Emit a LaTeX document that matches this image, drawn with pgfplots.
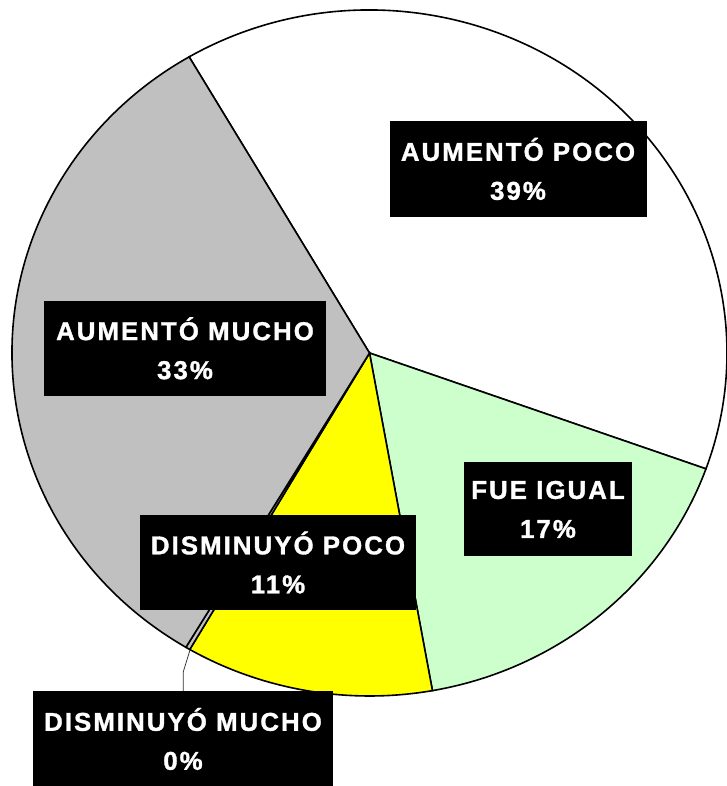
\documentclass[border=0pt]{standalone}
\usepackage{pgfplots}
\pgfplotsset{compat=1.18}
\usepackage{fontspec}
\setmainfont{Liberation Sans}
\newfontfamily\lblfont[LetterSpace=8, BoldFeatures={FakeBold=1.3}]{Liberation Sans}
\definecolor{lgreen}{HTML}{CCFFCC}
\definecolor{lgray}{HTML}{C0C0C0}
\definecolor{pyellow}{HTML}{FFFF00}
\definecolor{dmcol}{HTML}{C0C0C0}
% slice values (percent), clockwise from start angle
\def\vAP{38.9}\def\vFI{16.7}\def\vDP{11.2}\def\vDM{0.2}\def\vAM{33.0}
\pgfmathsetmacro\sAP{120.3}
\pgfmathsetmacro\eAP{\sAP-3.6*\vAP}
\pgfmathsetmacro\eFI{\eAP-3.6*\vFI}
\pgfmathsetmacro\eDP{\eFI-3.6*\vDP}
\pgfmathsetmacro\eDM{\eDP-3.6*\vDM}
\pgfmathsetmacro\eAM{\eDM-3.6*\vAM}
\tikzset{lbl/.style={fill=black,text=white,align=center,inner sep=0pt,
  font=\lblfont\bfseries\fontsize{25.8bp}{39bp}\selectfont}}
\begin{document}
\begin{tikzpicture}
\begin{axis}[scale only axis, width=727bp, height=786bp,
  xmin=0, xmax=727, ymin=0, ymax=786, hide axis, clip=false]
\draw[fill=white, line width=1.6bp] (axis cs:369.5,433) -- ++(\sAP:357.5bp and 343bp) arc[start angle=\sAP, end angle=\eAP, x radius=357.5bp, y radius=343bp] -- cycle;
\draw[fill=lgreen, line width=1.6bp] (axis cs:369.5,433) -- ++(\eAP:357.5bp and 343bp) arc[start angle=\eAP, end angle=\eFI, x radius=357.5bp, y radius=343bp] -- cycle;
\draw[fill=pyellow, line width=1.6bp] (axis cs:369.5,433) -- ++(\eFI:357.5bp and 343bp) arc[start angle=\eFI, end angle=\eDP, x radius=357.5bp, y radius=343bp] -- cycle;
\draw[fill=dmcol, line width=1.6bp] (axis cs:369.5,433) -- ++(\eDP:357.5bp and 343bp) arc[start angle=\eDP, end angle=\eDM, x radius=357.5bp, y radius=343bp] -- cycle;
\draw[fill=lgray, line width=1.6bp] (axis cs:369.5,433) -- ++(\eDM:357.5bp and 343bp) arc[start angle=\eDM, end angle=\eAM, x radius=357.5bp, y radius=343bp] -- cycle;
\draw[line width=0.75bp, black!80] (axis cs:190,136) -- (axis cs:183.3,114.3) -- (axis cs:183.3,94);
\node[lbl, minimum width=257bp, minimum height=96bp] at (axis cs:518,617) {AUMENTÓ POCO\\39\%};
\node[lbl, minimum width=282bp, minimum height=95bp] at (axis cs:185,437.7) {AUMENTÓ MUCHO\\33\%};
\node[lbl, minimum width=168bp, minimum height=94bp] at (axis cs:548,276.5) {FUE IGUAL\\17\%};
\node[lbl, minimum width=276bp, minimum height=95bp] at (axis cs:278,223.5) {DISMINUYÓ POCO\\11\%};
\node[lbl, minimum width=300.6bp, minimum height=95bp] at (axis cs:183,47) {DISMINUYÓ MUCHO\\0\%};
\end{axis}
\pgfresetboundingbox
\useasboundingbox (0,0) rectangle (727bp,786bp);
\end{tikzpicture}
\end{document}
